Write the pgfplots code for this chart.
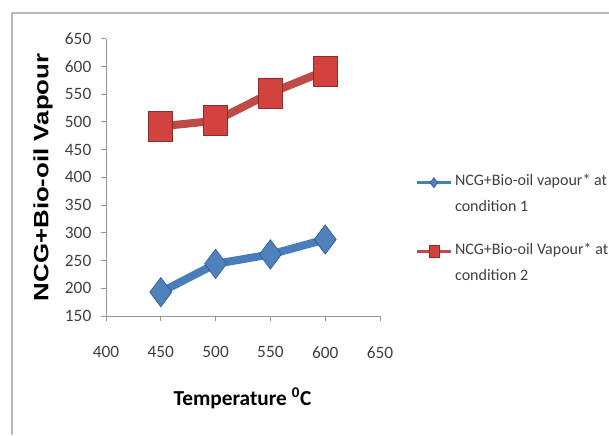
\documentclass[border=0pt]{standalone}
\usepackage{fontspec}
\setmainfont{Carlito}
\newfontfamily\arialfont{Liberation Sans}
\usepackage{graphicx}
\usepackage{pgfplots}
\pgfplotsset{compat=1.18}
\definecolor{lblue}{HTML}{4A7EBB}
\definecolor{mblue}{HTML}{4F81BD}
\definecolor{dblue}{HTML}{2F5C8F}
\definecolor{lred}{HTML}{BE4B48}
\definecolor{mred}{HTML}{D24340}
\definecolor{dred}{HTML}{8C2D2A}
\definecolor{axgray}{HTML}{969696}
\definecolor{txtgray}{HTML}{404040}
\begin{document}
\begin{tikzpicture}
\path[use as bounding box] (0,0) rectangle (456.75pt,326.25pt);
\draw[gray!55, line width=1.5pt] (9pt,0) -- (9pt,316.5pt) -- (456.75pt,316.5pt);
\begin{axis}[
  at={(79.5pt,89.25pt)}, anchor=south west,
  scale only axis, width=205.5pt, height=208pt,
  xmin=400, xmax=650, ymin=150, ymax=650,
  xtick={400,450,...,650}, ytick={150,200,...,650},
  axis lines=left, axis line style={-, draw=axgray, line width=0.75pt},
  tick style={draw=axgray, line width=0.75pt},
  tick align=outside, major tick length=3.5pt,
  ticklabel style={font=\fontsize{13}{15}\selectfont, text=txtgray},
  /pgf/number format/assume math mode=true,
  xticklabel style={yshift=-16pt},
  yticklabel style={xshift=-4pt},
  every axis x label/.style={at={(axis description cs:0.498,-0.296)}, anchor=center, font=\bfseries\fontsize{16}{19}\selectfont},
  every axis y label/.style={at={(axis description cs:-0.23,0.5)}, rotate=90, anchor=center, font=\arialfont\bfseries\fontsize{15.5}{18}\selectfont},
  xlabel={Temperature \textsuperscript{0}C},
  ylabel={\scalebox{1.25}[1]{NCG+Bio-oil Vapour}},
  legend style={at={(axis description cs:1.128,0.316)}, anchor=west, draw=none, fill=none, inner sep=0pt,
    font=\fontsize{12}{19.5}\selectfont, text=txtgray, row sep=18pt, cells={align=left}},
  legend cell align=left,
  legend image code/.code={\draw[yshift=8.5pt, mark repeat=2, mark phase=2, #1, line width=2.25pt, mark size=3.75pt] plot coordinates {(0cm,0cm) (0.45cm,0cm) (0.9cm,0cm)};},
]
\addplot[lblue, line width=6pt, mark=diamond*, mark size=11pt,
  mark options={draw=dblue, fill=mblue, line width=0.5pt}]
  coordinates {(450,193) (500,244) (550,261) (600,288)};
\addlegendentry{NCG+Bio-oil vapour* at\\condition 1}
\addplot[lred, line width=6pt, mark=square*, mark size=9pt,
  mark options={draw=dred, fill=mred, line width=0.5pt, yscale=1.25}]
  coordinates {(450,492) (500,502) (550,552) (600,592)};
\addlegendentry{NCG+Bio-oil Vapour* at\\condition 2}
\end{axis}
\end{tikzpicture}
\end{document}
